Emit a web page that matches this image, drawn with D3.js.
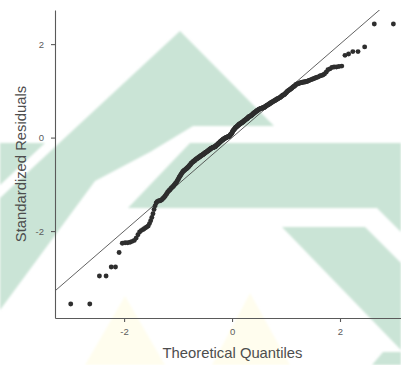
<!DOCTYPE html>
<html>
<head>
<meta charset="utf-8">
<script src="https://cdn.jsdelivr.net/npm/d3@7"></script>
<style>
  html, body { margin: 0; padding: 0; background: #ffffff; }
  svg { display: block; font-family: "Liberation Sans", Arial, sans-serif; }
</style>
</head>
<body>
<svg id="chart" width="401" height="365"></svg>
<script>
// ---- data ----
// sorted standardized residuals
const residuals = [
  -3.56,-3.56,-2.96,-2.96,-2.77,-2.77,-2.46,
  -2.26,-2.25,-2.25,-2.24,-2.22,-2.20,-2.15,-2.08,-2.02,-1.99,-1.97,-1.95,-1.93,
  -1.91,-1.89,-1.84,-1.78,-1.71,-1.63,-1.54,-1.46,-1.40,-1.37,
  -1.36,-1.35,-1.35,-1.34,-1.33,-1.31,-1.29,-1.27,-1.25,-1.22,
  -1.20,-1.17,-1.15,-1.13,-1.12,-1.10,-1.08,-1.07,-1.05,-1.04,
  -1.02,-1.00,-0.98,-0.97,-0.95,-0.92,-0.90,-0.88,-0.85,-0.83,
  -0.81,-0.79,-0.77,-0.75,-0.73,-0.72,-0.71,-0.70,-0.69,-0.68,
  -0.67,-0.66,-0.65,-0.64,-0.63,-0.62,-0.60,-0.59,-0.58,-0.56,
  -0.55,-0.54,-0.53,-0.52,-0.51,-0.50,-0.50,-0.49,-0.48,-0.47,
  -0.46,-0.45,-0.45,-0.44,-0.43,-0.43,-0.42,-0.41,-0.41,-0.40,
  -0.39,-0.39,-0.38,-0.37,-0.37,-0.36,-0.35,
  -0.35,-0.34,-0.33,-0.33,-0.32,-0.31,-0.31,-0.30,-0.29,-0.29,-0.28,
  -0.27,-0.27,-0.26,-0.25,-0.25,-0.24,-0.23,
  -0.23,-0.22,-0.22,-0.21,-0.21,-0.21,-0.20,-0.20,-0.20,-0.19,-0.19,
  -0.18,-0.17,-0.16,-0.16,-0.15,-0.14,-0.13,
  -0.12,-0.12,-0.11,-0.10,-0.09,-0.09,-0.08,-0.07,-0.06,-0.06,-0.05,
  -0.04,-0.04,-0.03,-0.03,-0.02,-0.02,-0.01,
  -0.01,0.00,0.00,0.01,0.01,0.01,0.02,0.02,0.02,0.03,0.03,
  0.04,0.05,0.06,0.07,0.08,0.09,0.10,
  0.12,0.14,0.15,0.16,0.17,0.18,0.19,
  0.20,0.21,0.22,0.22,0.23,0.24,0.25,0.25,0.26,0.27,0.28,
  0.28,0.29,0.29,0.30,0.30,0.31,0.32,
  0.32,0.33,0.33,0.34,0.35,0.35,0.36,0.37,0.37,0.38,0.39,
  0.39,0.40,0.41,0.41,0.42,0.43,0.44,
  0.44,0.45,0.45,0.46,0.46,0.47,0.48,0.48,0.49,0.50,
  0.51,0.51,0.52,0.53,0.53,0.54,0.55,0.56,
  0.56,0.57,0.58,0.58,0.59,0.59,0.60,0.61,0.61,0.62,
  0.62,0.62,0.63,0.63,0.63,0.64,0.64,0.64,
  0.65,0.65,0.66,0.67,0.67,0.68,0.69,0.69,0.70,0.71,
  0.71,0.72,0.73,0.73,0.74,0.75,0.75,0.76,0.77,0.77,0.78,
  0.79,0.79,0.80,0.81,0.81,0.82,0.83,
  0.83,0.84,0.85,0.85,0.86,0.87,0.88,
  0.89,0.90,0.91,0.91,0.92,0.93,0.95,
  0.96,0.97,0.99,1.00,1.01,1.02,1.03,1.04,
  1.05,1.06,1.08,1.09,1.10,1.11,1.13,
  1.14,1.15,1.15,1.16,1.17,1.17,1.18,
  1.18,1.19,1.19,1.19,1.20,1.20,1.21,
  1.22,1.23,1.24,1.25,1.26,1.27,1.28,1.29,
  1.30,1.32,1.33,1.34,1.36,1.40,
  1.45,1.47,1.50,1.51,1.51,1.52,1.53,
  1.76,1.79,1.84,1.84,1.94,2.43,2.43
];
const xTicks = [-2, 0, 2];
const yTicks = [-2, 0, 2];
const xTitle = "Theoretical Quantiles";
const yTitle = "Standardized Residuals";
// reference line (qqline): intercept, slope
const refLine = { intercept: 0.0, slope: 1.0 };

// ---- theoretical normal quantiles (Acklam inverse normal CDF) ----
function qnorm(p) {
  const a = [-3.969683028665376e+01, 2.209460984245205e+02, -2.759285104469687e+02,
             1.383577518672690e+02, -3.066479806614716e+01, 2.506628277459239e+00];
  const b = [-5.447609879822406e+01, 1.615858368580409e+02, -1.556989798598866e+02,
             6.680131188771972e+01, -1.328068155288572e+01];
  const c = [-7.784894002430293e-03, -3.223964580411365e-01, -2.400758277161838e+00,
             -2.549732539343734e+00, 4.374664141464968e+00, 2.938163982698783e+00];
  const d = [7.784695709041462e-03, 3.224671290700398e-01, 2.445134137142996e+00,
             3.754408661907416e+00];
  const pl = 0.02425, ph = 1 - pl;
  let q, r;
  if (p < pl) {
    q = Math.sqrt(-2 * Math.log(p));
    return (((((c[0]*q+c[1])*q+c[2])*q+c[3])*q+c[4])*q+c[5]) /
           ((((d[0]*q+d[1])*q+d[2])*q+d[3])*q+1);
  } else if (p <= ph) {
    q = p - 0.5; r = q * q;
    return (((((a[0]*r+a[1])*r+a[2])*r+a[3])*r+a[4])*r+a[5])*q /
           (((((b[0]*r+b[1])*r+b[2])*r+b[3])*r+b[4])*r+1);
  } else {
    q = Math.sqrt(-2 * Math.log(1 - p));
    return -(((((c[0]*q+c[1])*q+c[2])*q+c[3])*q+c[4])*q+c[5]) /
            ((((d[0]*q+d[1])*q+d[2])*q+d[3])*q+1);
  }
}
const n = residuals.length;
const points = residuals.map((r, i) => ({ q: qnorm((i + 1 - 0.5) / n), r }));

// ---- layout ----
const svg = d3.select("#chart");
const panel = { left: 55, right: 401, top: 10, bottom: 318 };

// ---- faint background watermark ----
const green = "#cae4d6", yellow = "#fffdee";
const defs = svg.append("defs");
defs.append("filter").attr("id", "soft").attr("x", "-5%").attr("y", "-5%")
  .attr("width", "110%").attr("height", "110%")
  .append("feGaussianBlur").attr("stdDeviation", 1.1);
const wm = svg.append("g").attr("class", "watermark").attr("filter", "url(#soft)");
const wmShapes = [
  { fill: green, pts: [[180,31],[274,126],[193,126],[150,152],[95,181],[0,310],[0,198]] },
  { fill: green, pts: [[0,143],[45,143],[0,185]] },
  { fill: green, pts: [[190,143],[401,143],[401,232],[377,208],[128,208]] },
  { fill: green, pts: [[282,227],[365,227],[401,263],[401,350]] },
  { fill: green, pts: [[383,352],[401,352],[401,365],[372,365]] },
  { fill: yellow, pts: [[125,296],[165,365],[85,365]] },
  { fill: yellow, pts: [[250,293],[290,365],[212,365]] }
];
wm.selectAll("polygon").data(wmShapes).join("polygon")
  .attr("points", d => d.pts.map(p => p.join(",")).join(" "))
  .attr("fill", d => d.fill);

// ---- scales ----
const x = d3.scaleLinear().domain([-3.28, 3.13]).range([panel.left, panel.right]);
const y = d3.scaleLinear().domain([-3.86, 2.73]).range([panel.bottom, panel.top]);

defs.append("clipPath").attr("id", "clip")
  .append("rect").attr("x", panel.left).attr("y", panel.top)
  .attr("width", panel.right - panel.left).attr("height", panel.bottom - panel.top);

const plot = svg.append("g").attr("clip-path", "url(#clip)");

// reference line
const xd = x.domain();
plot.append("line")
  .attr("x1", x(xd[0])).attr("y1", y(refLine.intercept + refLine.slope * xd[0]))
  .attr("x2", x(xd[1])).attr("y2", y(refLine.intercept + refLine.slope * xd[1]))
  .attr("stroke", "#3a3a3a").attr("stroke-width", 0.8);

// points
plot.selectAll("circle").data(points).join("circle")
  .attr("cx", d => x(d.q)).attr("cy", d => y(d.r))
  .attr("r", 2.45).attr("fill", "#2e2e2e");

// ---- axes ----
const axisColor = "#5a5a5a", tickText = "#5c5c5c";
const gx = svg.append("g").attr("transform", `translate(0,${panel.bottom})`)
  .call(d3.axisBottom(x).tickValues(xTicks).tickSize(4).tickPadding(6.5).tickSizeOuter(0)
        .tickFormat(d => String(d)));
const gy = svg.append("g").attr("transform", `translate(${panel.left},0)`)
  .call(d3.axisLeft(y).tickValues(yTicks).tickSize(4).tickPadding(7).tickSizeOuter(0)
        .tickFormat(d => String(d)));
[gx, gy].forEach(g => {
  g.select(".domain").attr("stroke", axisColor).attr("stroke-width", 1.1);
  g.selectAll(".tick line").attr("stroke", axisColor).attr("stroke-width", 1.1);
  g.selectAll(".tick text").attr("fill", tickText).attr("font-size", 9.5)
    .attr("font-family", "'Liberation Sans', Arial, sans-serif");
});

// titles
svg.append("text").attr("x", 232.5).attr("y", 358)
  .attr("text-anchor", "middle").attr("font-size", 14.8).attr("fill", "#4d4d4d")
  .text(xTitle);
svg.append("text")
  .attr("transform", `translate(25.5,${(panel.top + panel.bottom) / 2}) rotate(-90)`)
  .attr("text-anchor", "middle").attr("font-size", 14.8).attr("fill", "#4d4d4d")
  .text(yTitle);
</script>
</body>
</html>
